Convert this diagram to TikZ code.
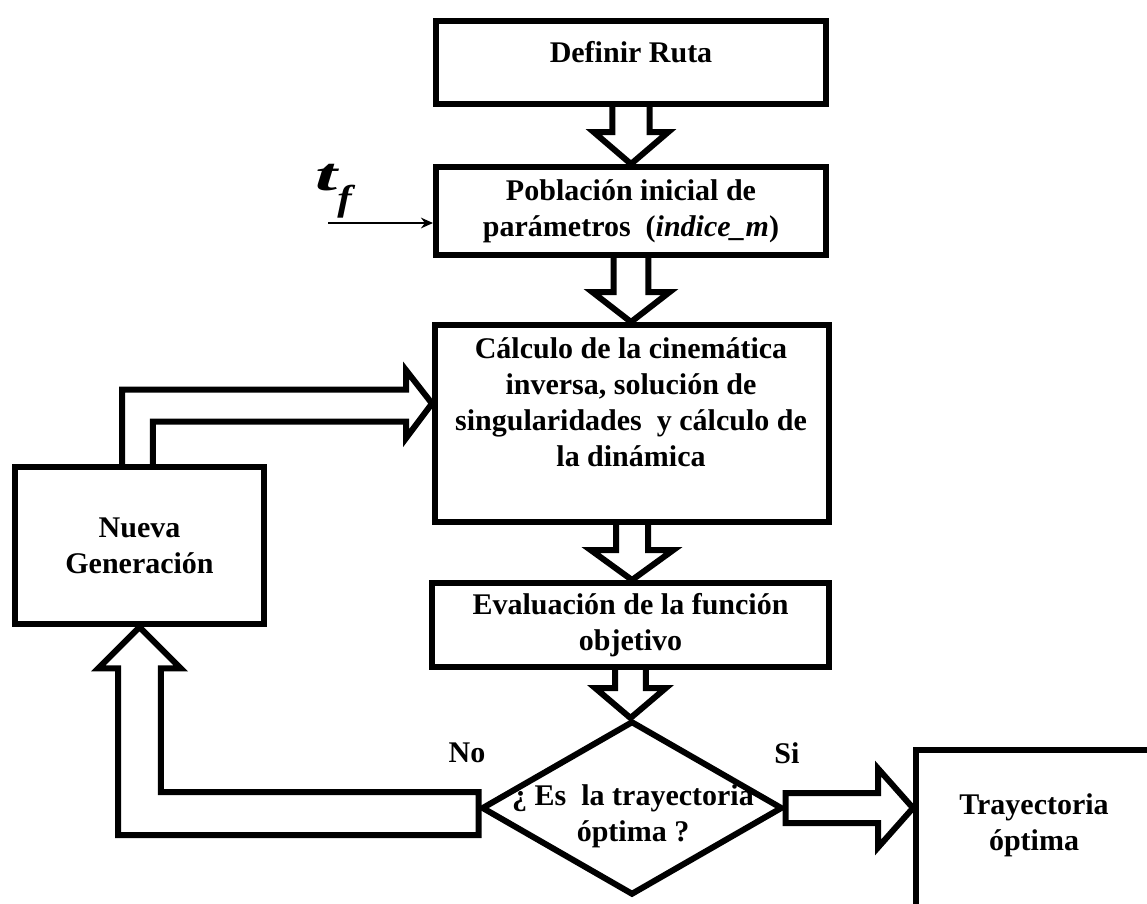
\documentclass[tikz,border=0pt]{standalone}
\usepackage{fontspec}
\setmainfont{Liberation Serif}
\usetikzlibrary{shapes.geometric,calc,arrows.meta}
\newcommand\vblk[5]{%
  \draw[blk] let \p1=(#1), \p2=(#2) in
    (\x1-#3,\y1) -- (\x1-#3,\y2+#5) -- (\x1-#4,\y2+#5) -- (\x1,\y2)
    -- (\x1+#4,\y2+#5) -- (\x1+#3,\y2+#5) -- (\x1+#3,\y1);}
\begin{document}
\begin{tikzpicture}[x=0.75pt,y=-0.75pt,
  fnt/.style={font=\bfseries\fontsize{22.5}{27}\selectfont},
  box/.style={draw,line width=4.5pt,inner sep=0pt,align=center,fnt},
  txt/.style={inner sep=0pt,align=center,fnt},
  blk/.style={draw,line width=4.5pt}]
\useasboundingbox (0,0) rectangle (1147,904);

% boxes
\node[box,minimum width=292.5pt,minimum height=62.25pt] (b1) at (631,62.5) {};
\node[txt] (b1t) at (631,52) {Definir Ruta};
\node[box,minimum width=292.5pt,minimum height=66pt] (b2) at (631,211)
  {Población inicial de\\parámetros\ \ (\textit{indice\_m})};
\node[box,minimum width=295.5pt,minimum height=147.75pt] (b3) at (632,423.5) {};
\node[txt] (b3t) at (631,402) {Cálculo de la cinemática\\inversa, solución de\\singularidades\ \ y cálculo de\\la dinámica};
\node[box,minimum width=297.75pt,minimum height=63pt] (b4) at (630.5,625)
  {Evaluación de la función\\objetivo};
\node[draw,diamond,line width=4.5pt,inner sep=0pt,minimum width=225.75pt,minimum height=130.5pt] (dia) at (632,808) {};
\node[txt] (diat) at (633,816) {¿ Es\ \ la trayectoria\\óptima ?};
\node[box,minimum width=186.75pt,minimum height=117.75pt] (ng) at (139.5,545.5) {Nueva\\Generación};
\node[box,minimum width=288pt,minimum height=187.5pt] (tr) at (1108,875) {};
\node[txt] (trt) at (1034,825) {Trayectoria\\óptima};
\node[txt] (no) at (467,753) {No};
\node[txt] (si) at (787,753) {Si};

% t_f input
\node[anchor=base west,inner sep=0pt,font=\bfseries\itshape\fontsize{35}{35}\selectfont] (tf) at (315,190)
  {\scalebox{1.7}[1]{t}\kern0pt\raisebox{-15pt}{\fontsize{27}{27}\selectfont\scalebox{1.2}[1]{f}}};
\coordinate (tfs) at (328,223);
\draw[line width=1.5pt,-{Stealth[length=9pt,width=8pt]}] (tfs) -- (tfs -| b2.west);

% vertical block arrows
\vblk{b1.south}{b2.north}{14pt}{28pt}{24pt}
\vblk{b2.south}{b3.north}{13pt}{29pt}{22.5pt}
\vblk{b3.south}{b4.north}{12pt}{31pt}{22.5pt}
\vblk{b4.south}{dia.north}{11.6pt}{26.5pt}{22.5pt}

% Si arrow
\draw[blk] let \p1=(dia.east), \p2=(tr.west) in
  (\x1,\y1+11.25pt) -- (\x2-26.25pt,\y1+11.25pt) -- (\x2-26.25pt,\y1+29.6pt) -- (\x2,\y1)
  -- (\x2-26.25pt,\y1-29.6pt) -- (\x2-26.25pt,\y1-11.25pt) -- (\x1,\y1-11.25pt) -- cycle;

% No arrow
\draw[blk] let \p1=(dia.west), \p2=(ng.south) in
  (\x1,\y1+12pt) -- (\x2+16pt,\y1+12pt) -- (\x2+16pt,\y2-31pt) -- (\x2+31pt,\y2-31pt)
  -- (\x2,\y2) -- (\x2-31pt,\y2-31pt) -- (\x2-16pt,\y2-31pt) -- (\x2-16pt,\y1-20.25pt)
  -- (\x1,\y1-20.25pt) -- cycle;

% feedback arrow to b3
\draw[blk] let \p1=(ng.north), \p2=($(b3.west)+(0,-20)$) in
  (\x1-13pt,\y1) -- (\x1-13pt,\y2+10.5pt) -- (\x2-19.5pt,\y2+10.5pt) -- (\x2-19.5pt,\y2+25pt)
  -- (\x2,\y2) -- (\x2-19.5pt,\y2-26pt) -- (\x2-19.5pt,\y2-13.5pt) -- (\x1+10pt,\y2-13.5pt)
  -- (\x1+10pt,\y1);
\end{tikzpicture}
\end{document}
